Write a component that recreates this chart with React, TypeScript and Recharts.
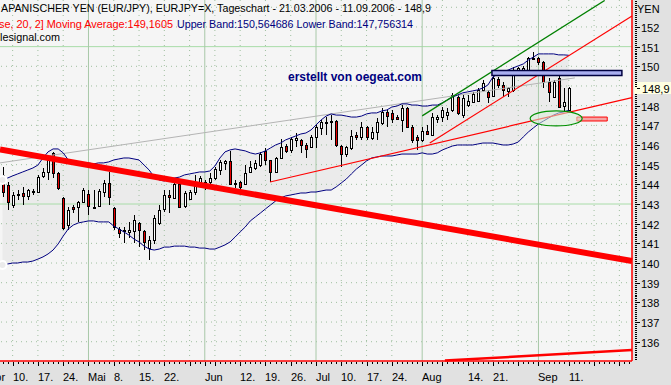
import React from "react";
import {
  ComposedChart,
  XAxis,
  YAxis,
  Bar,
  Line,
  Area,
  ReferenceLine,
  ReferenceArea,
  ReferenceDot,
} from "recharts";

document.body.style.margin = "0";

const W = 671;
const H = 385;
const SLOTS = 125; // 113 trading days + empty room to the right
const Y_MIN = 135.02;
const Y_MAX = 153.37;
const FONT = "'Liberation Sans', Arial, sans-serif";

// EUR/JPY daily candles, index 0 = 06.04.2006 ... index 112 = 11.09.2006
const opens = [
  144.48, 143.97, 142.95, 143.51, 143.56, 143.41, 143.66, 143.61, 144.43, 144.63,
  145.6, 144.58, 143.31, 141.93, 142.85, 142.85, 143.1, 143.51, 142.83, 142.9,
  143.61, 144.07, 142.8, 141.73, 141.66, 141.58, 141.63, 142.04, 141.63, 140.76,
  141.17, 142.04, 142.75, 143.46, 143.31, 144.02, 142.9, 143.26, 143.61, 144.12,
  144.12, 144.12, 144.32, 144.73, 145.09, 145.19, 144.07, 144.12, 144.02, 144.63,
  144.83, 144.98, 145.7, 145.24, 144.63, 145.34, 145.95, 145.75, 146.26, 146.26,
  146.0, 145.9, 146.41, 146.87, 147.17, 147.22, 147.22, 145.95, 145.54, 145.85,
  146.51, 146.41, 146.92, 146.36, 146.66, 147.12, 147.68, 147.63, 147.42, 147.27,
  147.88, 146.92, 146.41, 146.26, 146.71, 146.51, 147.32, 147.42, 147.52, 147.78,
  148.44, 147.52, 148.03, 148.19, 148.24, 148.8, 148.7, 148.49, 149.36, 149.05,
  148.75, 148.8, 149.66, 149.76, 149.81, 150.42, 150.42, 150.22, 149.2, 148.44,
  149.41, 147.98, 147.78,
];
const highs = [
  144.88, 144.12, 143.61, 143.71, 143.87, 143.76, 143.76, 144.48, 144.83, 145.39,
  145.65, 144.63, 143.36, 142.85, 142.95, 143.15, 143.81, 143.71, 143.71, 143.76,
  144.22, 144.63, 142.85, 141.83, 141.83, 142.09, 142.44, 142.09, 141.68, 141.37,
  142.44, 142.95, 143.71, 143.71, 144.07, 144.07, 143.66, 143.71, 144.48, 144.43,
  144.22, 144.58, 144.88, 145.24, 145.24, 145.7, 144.22, 144.17, 144.98, 145.19,
  145.24, 145.65, 145.85, 145.24, 145.39, 146.31, 146.05, 146.41, 146.61, 146.31,
  146.1, 146.51, 147.02, 147.27, 147.42, 147.52, 147.27, 146.0, 145.95, 146.76,
  146.66, 147.17, 146.97, 146.92, 147.37, 147.88, 147.78, 147.78, 147.52, 148.03,
  147.93, 147.02, 146.51, 146.92, 147.02, 147.63, 147.52, 147.93, 147.88, 148.65,
  148.54, 148.54, 148.54, 148.7, 148.9, 149.31, 148.8, 149.81, 149.46, 149.2,
  148.95, 149.97, 149.97, 150.02, 150.47, 150.73, 150.47, 150.27, 149.41, 149.31,
  149.51, 148.9, 148.95,
];
const lows = [
  143.36, 142.7, 142.8, 143.2, 142.95, 143.2, 143.46, 143.56, 144.32, 144.22,
  144.32, 143.71, 141.68, 141.68, 142.54, 142.09, 143.05, 142.44, 142.8, 142.85,
  143.36, 142.95, 141.68, 141.27, 141.02, 141.27, 141.02, 140.81, 140.66, 140.15,
  140.97, 141.93, 142.6, 142.54, 143.26, 142.8, 142.8, 143.2, 143.46, 143.87,
  143.71, 143.97, 144.22, 144.48, 144.73, 143.97, 143.81, 143.71, 143.97, 144.58,
  144.73, 144.88, 144.98, 144.12, 144.58, 145.29, 145.6, 145.6, 145.9, 145.6,
  145.34, 145.85, 145.85, 146.51, 146.51, 146.26, 145.9, 144.88, 145.39, 145.75,
  146.26, 146.26, 146.26, 146.26, 146.26, 147.02, 146.92, 147.12, 147.27, 146.66,
  146.87, 146.1, 145.75, 146.15, 146.51, 146.46, 147.12, 147.17, 147.27, 147.68,
  147.52, 147.37, 147.93, 148.14, 148.19, 148.7, 148.14, 148.44, 148.9, 148.44,
  148.44, 148.7, 149.56, 149.71, 149.71, 150.37, 150.07, 148.9, 148.19, 148.39,
  147.88, 147.68, 147.78,
];
const closes = [
  143.61, 143.1, 143.46, 143.53, 143.41, 143.71, 143.68, 144.37, 144.63, 145.24,
  144.58, 143.81, 141.78, 142.7, 142.75, 143.1, 143.71, 142.9, 142.85, 143.66,
  144.07, 143.36, 141.83, 141.53, 141.68, 141.68, 142.19, 141.68, 141.07, 141.17,
  142.29, 142.7, 143.46, 143.36, 144.02, 142.85, 143.56, 143.61, 144.02, 144.32,
  144.14, 144.32, 144.78, 145.14, 145.19, 144.02, 144.09, 143.87, 144.58, 144.88,
  145.09, 145.54, 145.24, 144.63, 145.34, 145.9, 145.7, 146.31, 146.36, 146.0,
  145.8, 146.41, 146.92, 147.17, 147.12, 147.17, 146.0, 145.54, 145.9, 146.46,
  146.41, 146.92, 146.41, 146.66, 147.17, 147.68, 147.47, 147.32, 147.32, 147.88,
  146.92, 146.26, 146.26, 146.71, 146.56, 147.42, 147.42, 147.78, 147.68, 148.54,
  147.63, 148.39, 148.24, 148.59, 148.8, 149.15, 148.44, 149.41, 149.05, 148.8,
  148.9, 149.66, 149.92, 149.92, 150.42, 150.44, 150.22, 149.2, 148.7, 149.2,
  147.93, 148.19, 148.9,
];

// Bollinger band (20, 2)
const upperBand = [
  144.22, 144.32, 144.43, 144.53, 144.63, 144.73, 144.83, 144.98, 145.34, 145.65,
  145.8, 145.8, 145.6, 145.24, 145.14, 145.09, 145.09, 145.09, 145.04, 145.09,
  145.09, 145.14, 145.24, 145.29, 145.34, 145.34, 145.29, 145.24, 144.98, 144.73,
  144.37, 144.22, 144.17, 144.27, 144.32, 144.37, 144.48, 144.53, 144.58, 144.63,
  144.63, 144.68, 144.93, 145.34, 145.65, 145.75, 145.8, 145.75, 145.7, 145.6,
  145.54, 145.6, 145.7, 145.85, 146.0, 146.1, 146.26, 146.36, 146.46, 146.56,
  146.61, 146.76, 147.02, 147.27, 147.47, 147.58, 147.52, 147.52, 147.47, 147.42,
  147.42, 147.47, 147.58, 147.63, 147.63, 147.73, 147.78, 147.93, 147.98, 148.09,
  148.09, 148.03, 148.03, 147.98, 147.98, 148.03, 148.03, 148.14, 148.29, 148.44,
  148.54, 148.65, 148.7, 148.75, 148.8, 148.9, 149.05, 149.46, 149.61, 149.71,
  149.81, 149.92, 150.02, 150.12, 150.32, 150.47, 150.63, 150.63, 150.63, 150.63,
  150.58, 150.58, 150.56,
];
const lowerBand = [
  139.9, 139.95, 140.0, 140.0, 140.05, 140.05, 140.1, 140.2, 140.31, 140.46,
  140.66, 140.97, 141.37, 141.73, 141.93, 142.04, 142.09, 142.14, 142.14, 142.09,
  142.09, 142.09, 141.88, 141.73, 141.58, 141.42, 141.22, 141.07, 140.86, 140.71,
  140.66, 140.71, 140.81, 140.81, 140.86, 140.86, 140.86, 140.81, 140.81, 140.76,
  140.76, 140.71, 140.71, 140.81, 140.92, 141.07, 141.32, 141.58, 141.83, 142.14,
  142.34, 142.54, 142.75, 142.95, 143.15, 143.31, 143.41, 143.46, 143.51, 143.56,
  143.56, 143.61, 143.61, 143.66, 143.71, 143.71, 143.87, 144.07, 144.27, 144.53,
  144.78, 144.98, 145.19, 145.34, 145.39, 145.44, 145.44, 145.44, 145.49, 145.54,
  145.54, 145.54, 145.54, 145.6, 145.54, 145.54, 145.6, 145.75, 145.85, 145.95,
  146.0, 146.0, 146.0, 146.0, 146.05, 146.1, 146.1, 146.1, 146.05, 146.0,
  146.0, 146.05, 146.15, 146.41, 146.66, 146.87, 147.07, 147.22, 147.37, 147.52,
  147.63, 147.68, 147.76,
];

// x-axis: day index -> label, Mondays, first trading day of each month
const dayLabels: Record<number, string> = {
  2: "10.", 7: "17.", 12: "24.", 17: "Mai", 22: "8.", 27: "15.", 32: "22.",
  40: "Jun", 47: "12.", 52: "19.", 57: "26.", 62: "Jul", 67: "10.", 72: "17.",
  77: "24.", 83: "Aug", 92: "14.", 97: "21.", 106: "Sep", 112: "11.",
};
const weekDays = [2, 7, 12, 22, 27, 32, 37, 42, 47, 52, 57, 67, 72, 77, 87, 92, 97, 102, 112, 117, 122];
const monthDays = [17, 40, 62, 83, 106];

// y-axis
const priceLabels = [136, 137, 138, 139, 140, 141, 142, 143, 144, 145, 146, 147, 148, 150, 151, 152];
const gridPrices = [136, 137, 138, 139, 140, 141, 142, 144, 145, 146, 147, 148, 149, 150, 152, 153];
const majorPrices = [143, 151];
const lastPrice = 148.9;

// hand drawn analysis lines, [day index, price]
const longDownTrend = [[-0.5, 145.77], [124.5, 140.1]];
const grayTrend = [[-0.5, 145.09], [113.2, 149.41]];
const channelTop = [[83.0, 147.48], [119.1, 153.35]];
const channelMid = [[84.5, 146.1], [124.5, 152.56]];
const supportLine = [[52.9, 144.12], [124.5, 148.41]];
const bottomLine = [[87.5, 135.04], [124.5, 135.58]];
const resistanceBox = [[96.8, 149.53], [122.5, 149.79]];
const targetBox = [[113.6, 147.22], [119.6, 147.42]];
const focusZone = [109.5, 147.35];

const seg = (s: number[][]) => s.map(([x, y]) => ({ x, y }));

const Candle = (props: any) => {
  const { x, y, width, height, payload } = props;
  if (!payload || payload.h == null) return null;
  const { o, h, l, c } = payload;
  const top = Math.min(y, y + height);
  const span = Math.abs(height);
  const k = h > l ? span / (h - l) : 0;
  const py = (v: number) => top + (h - v) * k;
  const cx = Math.round(x + width / 2);
  const bTop = Math.round(py(Math.max(o, c))) + 0.5;
  const bBot = Math.round(py(Math.min(o, c))) + 0.5;
  const up = c >= o;
  return (
    <g>
      <line x1={cx + 0.5} x2={cx + 0.5} y1={Math.round(top)} y2={Math.round(top + span)} stroke="#000" />
      <rect
        x={cx - 0.5}
        y={bTop}
        width={2}
        height={Math.max(bBot - bTop, 1)}
        fill={up ? "#ffffff" : "#e80000"}
        stroke="#000"
      />
    </g>
  );
};

const DateTick = (props: any) => {
  const { x, y, payload } = props;
  const i = payload.value;
  const major = weekDays.includes(i) || monthDays.includes(i);
  const cx = Math.round(x) + 0.5;
  const label = dayLabels[i];
  return (
    <g>
      <line x1={cx} x2={cx} y1={y + 1} y2={y + (major ? 5 : 3)} stroke="#000" />
      {label && (
        <text x={Math.round(x)} y={y + 20} fontSize={11} fontFamily={FONT} fill="#000">
          {label}
        </text>
      )}
    </g>
  );
};

const PriceTick = (props: any) => {
  const { x, y, payload } = props;
  const v = payload.value;
  const yy = Math.round(y) + 0.5;
  if (v === lastPrice) {
    return (
      <g>
        <rect x={x + 2} y={yy - 6.5} width={40} height={12} fill="#ffffe1" />
        <line x1={x + 5} x2={x + 8} y1={yy} y2={yy} stroke="#000" />
        <text x={x + 10} y={yy + 4} fontSize={11} fontFamily={FONT} fill="#000">
          148,9
        </text>
      </g>
    );
  }
  if (priceLabels.includes(v)) {
    return (
      <g>
        <line x1={x + 3} x2={x + 8} y1={yy} y2={yy} stroke="#000" />
        <text x={x + 9} y={yy + 4} fontSize={11} fontFamily={FONT} fill="#000">
          {v}
        </text>
      </g>
    );
  }
  return <line x1={x + 3} x2={x + 5} y1={yy} y2={yy} stroke="#000" />;
};

export default function App() {
  const rows = Array.from({ length: SLOTS }, (_, i) => ({
    i,
    o: i < opens.length ? opens[i] : null,
    h: i < highs.length ? highs[i] : null,
    l: i < lows.length ? lows[i] : null,
    c: i < closes.length ? closes[i] : null,
    ub: i < upperBand.length ? upperBand[i] : null,
    lb: i < lowerBand.length ? lowerBand[i] : null,
  }));
  const yTicks = Array.from({ length: 183 }, (_, k) => (1351 + k) / 10);

  return (
    <div style={{ position: "relative", width: W, height: H, background: "#e1e1e1", overflow: "hidden" }}>
      <ComposedChart width={W} height={H} data={rows} margin={{ top: 0, right: 0, bottom: 0, left: 0 }}>
        <XAxis
          dataKey="i"
          type="category"
          interval={0}
          height={24}
          tickSize={0}
          tickMargin={0}
          tickLine={false}
          axisLine={{ stroke: "#ff0000", strokeWidth: 1.5 }}
          tick={(p: any) => <DateTick {...p} />}
        />
        <XAxis xAxisId="n" type="number" dataKey="i" domain={[-0.5, SLOTS - 0.5]} hide allowDataOverflow />
        <YAxis
          orientation="right"
          width={39}
          domain={[Y_MIN, Y_MAX]}
          allowDataOverflow
          ticks={yTicks}
          interval={0}
          tickSize={0}
          tickMargin={0}
          tickLine={false}
          axisLine={{ stroke: "#ff0000", strokeWidth: 1.5 }}
          tick={(p: any) => <PriceTick {...p} />}
        />

        <ReferenceArea
          xAxisId="n"
          x1={-0.5}
          x2={SLOTS - 0.5}
          y1={Y_MIN}
          y2={Y_MAX}
          fill="#f5f5f5"
          fillOpacity={1}
          stroke="none"
          zIndex={-200}
        />
        <Area
          dataKey={(d: any) => (d.ub == null ? null : [d.lb, d.ub])}
          fill="#ebebeb"
          fillOpacity={1}
          stroke="none"
          isAnimationActive={false}
          zIndex={-150}
        />

        {gridPrices.map((p) => (
          <ReferenceLine key={"gp" + p} xAxisId="n" y={p} stroke="#9fbf9f" strokeDasharray="1 4" zIndex={-120} />
        ))}
        {majorPrices.map((p) => (
          <ReferenceLine key={"mp" + p} xAxisId="n" y={p} stroke="#a8dca8" zIndex={-120} />
        ))}
        {weekDays.map((d) => (
          <ReferenceLine key={"wd" + d} xAxisId="n" x={d} stroke="#9fbf9f" strokeDasharray="1 4" zIndex={-120} />
        ))}
        {monthDays.map((d) => (
          <ReferenceLine key={"md" + d} xAxisId="n" x={d} stroke="#a8c8a8" zIndex={-120} />
        ))}

        <Line dataKey="ub" stroke="#000080" strokeWidth={1} dot={false} activeDot={false} isAnimationActive={false} />
        <Line dataKey="lb" stroke="#000080" strokeWidth={1} dot={false} activeDot={false} isAnimationActive={false} />

        <ReferenceLine xAxisId="n" segment={seg(grayTrend)} stroke="#b4b4b4" ifOverflow="visible" zIndex={350} />

        <Bar
          dataKey={(d: any) => (d.h == null ? null : [d.l, d.h])}
          barSize={5}
          shape={(p: any) => <Candle {...p} />}
          isAnimationActive={false}
        />

        <ReferenceLine xAxisId="n" segment={seg(longDownTrend)} stroke="#ff0000" strokeWidth={6} ifOverflow="visible" zIndex={420} />
        <ReferenceLine xAxisId="n" segment={seg(supportLine)} stroke="#ff0000" strokeWidth={1.2} ifOverflow="visible" zIndex={420} />
        <ReferenceLine xAxisId="n" segment={seg(channelMid)} stroke="#ff0000" strokeWidth={1.2} ifOverflow="visible" zIndex={420} />
        <ReferenceLine xAxisId="n" segment={seg(channelTop)} stroke="#008000" strokeWidth={1.2} ifOverflow="visible" zIndex={420} />
        <ReferenceLine xAxisId="n" segment={seg(bottomLine)} stroke="#ff0000" strokeWidth={2.5} ifOverflow="visible" zIndex={420} />

        <ReferenceArea
          xAxisId="n"
          x1={resistanceBox[0][0]}
          x2={resistanceBox[1][0]}
          y1={resistanceBox[0][1]}
          y2={resistanceBox[1][1]}
          fill="#a9aef0"
          fillOpacity={1}
          stroke="#000040"
          strokeWidth={1.5}
          ifOverflow="visible"
          zIndex={430}
        />
        <ReferenceArea
          xAxisId="n"
          x1={targetBox[0][0]}
          x2={targetBox[1][0]}
          y1={targetBox[0][1]}
          y2={targetBox[1][1]}
          fill="#f4a4a4"
          fillOpacity={1}
          stroke="#ff0000"
          strokeWidth={1}
          ifOverflow="visible"
          zIndex={430}
        />
        <ReferenceDot
          xAxisId="n"
          x={focusZone[0]}
          y={focusZone[1]}
          r={26}
          ifOverflow="visible"
          zIndex={440}
          shape={(p: any) => (
            <ellipse
              cx={p.cx}
              cy={p.cy}
              rx={26}
              ry={7.5}
              fill="#d8ecd8"
              fillOpacity={0.55}
              stroke="#009000"
              strokeWidth={1.2}
            />
          )}
        />
      </ComposedChart>

      <svg
        width={W}
        height={H}
        style={{ position: "absolute", left: 0, top: 0, pointerEvents: "none" }}
        fontFamily={FONT}
      >
        <text x={1} y={12} fontSize={11} fill="#000" textLength={430} lengthAdjust="spacingAndGlyphs">
          APANISCHER YEN (EUR/JPY), EURJPY=X, Tageschart - 21.03.2006 - 11.09.2006 - 148,9
        </text>
        <text x={-1} y={28} fontSize={11} fill="#ff0000" textLength={174} lengthAdjust="spacingAndGlyphs">
          se, 20, 2] Moving Average:149,1605
        </text>
        <text x={177} y={28} fontSize={11} fill="#000080" textLength={236} lengthAdjust="spacingAndGlyphs">
          Upper Band:150,564686 Lower Band:147,756314
        </text>
        <text x={0} y={41} fontSize={11} fill="#000" textLength={60} lengthAdjust="spacingAndGlyphs">
          lesignal.com
        </text>
        <text
          x={288}
          y={81}
          fontSize={12}
          fontWeight="bold"
          fill="#000080"
          textLength={134}
          lengthAdjust="spacingAndGlyphs"
        >
          erstellt von oegeat.com
        </text>
        <text x={637} y={13} fontSize={11} fill="#000">
          YEN
        </text>
        <text x={-12} y={381} fontSize={11} fill="#000">
          Apr
        </text>
      </svg>
    </div>
  );
}
